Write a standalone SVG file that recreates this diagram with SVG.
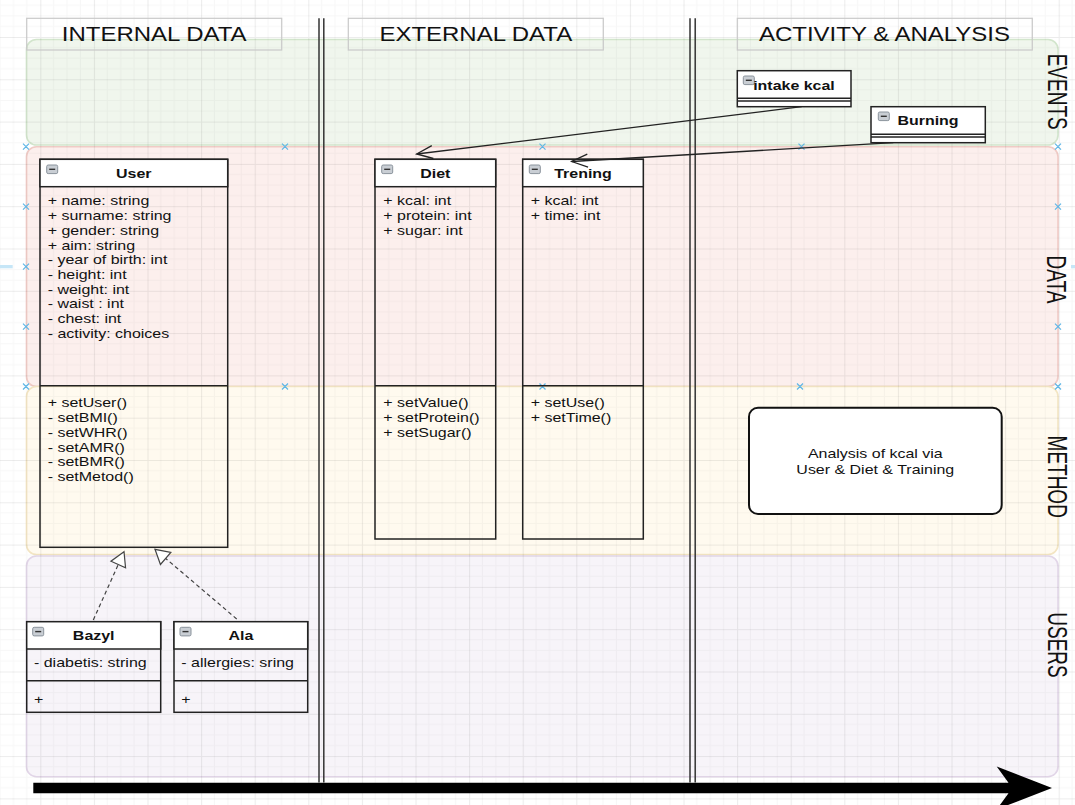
<svg xmlns="http://www.w3.org/2000/svg" xmlns:xlink="http://www.w3.org/1999/xlink" width="1075" height="805" viewBox="0 0 1075 805">
<style>
text{font-family:"Liberation Sans",Arial,sans-serif;fill:#111}
.hdr{font-size:20px}
.lane{font-size:19px}
.t{font-size:13.3px}
.b{font-size:13.3px;font-weight:bold}
.box{fill:none;stroke:#222;stroke-width:1.5}
.hd{fill:#fff;stroke:#222;stroke-width:1.5}
.ln{stroke:#222;stroke-width:1.5}
.dl{stroke:#333;stroke-width:1.5}
.col{fill:none;stroke:#c9c9c9;stroke-width:1.2}
.x{stroke:#5fb6e6;stroke-width:1.2;fill:none}
.edge{fill:none;stroke:#222;stroke-width:1.3}
.dash{fill:none;stroke:#444;stroke-width:1.2;stroke-dasharray:4 3}
</style>
<defs>
<pattern id="grid" patternUnits="userSpaceOnUse" x="-13.3" y="-5.3" width="53.6" height="42.3">
<path d="M13.4 0V42.3M26.8 0V42.3M40.2 0V42.3M0 10.575H53.6M0 21.15H53.6M0 31.725H53.6" stroke="#000" stroke-opacity="0.032" stroke-width="1" fill="none"/>
<path d="M0.5 0V42.3M0 0.5H53.6" stroke="#000" stroke-opacity="0.075" stroke-width="1" fill="none"/>
</pattern>
<marker id="open" markerUnits="userSpaceOnUse" markerWidth="24" markerHeight="24" viewBox="-20 -12 24 24" refX="0" refY="0" orient="auto" overflow="visible">
<path d="M-16,-6.5 L0,0 L-16,6.5" fill="none" stroke="#222" stroke-width="1.3"/>
</marker>
<marker id="tri" markerUnits="userSpaceOnUse" markerWidth="24" markerHeight="24" viewBox="-20 -12 24 24" refX="0" refY="0" orient="auto" overflow="visible">
<path d="M0,0 L-14,-8 L-14,8 Z" fill="#fff" stroke="#444" stroke-width="1.2"/>
</marker>
<g id="ic">
<rect x="0" y="0" width="11" height="8.6" rx="1.5" fill="#c9ced4" stroke="#8a939c" stroke-width="1"/>
<line x1="2.5" y1="4.3" x2="8.5" y2="4.3" stroke="#333" stroke-width="1.4"/>
</g>
</defs>

<rect x="0" y="0" width="1075" height="805" fill="#fff"/>

<g id="lanes">
<rect x="26.5" y="39.5" width="1031.5" height="105.5" rx="10" fill="#f0f6ed" stroke="#d2e5cc" stroke-width="1.6"/>
<rect x="26.5" y="146.7" width="1031.5" height="239.8" rx="10" fill="#fcefed" stroke="#f0cbc6" stroke-width="1.6"/>
<rect x="26.5" y="386.5" width="1031.5" height="168" rx="10" fill="#fffaef" stroke="#f3e5c3" stroke-width="1.6"/>
<rect x="26.5" y="556" width="1031.5" height="220.7" rx="10" fill="#f7f4f9" stroke="#e2d6e8" stroke-width="1.6"/>
</g>

<rect x="0" y="0" width="1075" height="805" fill="url(#grid)"/>

<g id="columns">
<rect class="col" x="26.7" y="18.3" width="255" height="31.7"/>
<rect class="col" x="348.3" y="18.3" width="255" height="31.7"/>
<rect class="col" x="737.3" y="18.3" width="295" height="31.7"/>
<text class="hdr" text-anchor="middle" transform="translate(154.2 40.6) scale(1.2 1)">INTERNAL DATA</text>
<text class="hdr" text-anchor="middle" transform="translate(475.8 40.6) scale(1.2 1)">EXTERNAL DATA</text>
<text class="hdr" text-anchor="middle" transform="translate(884.5 40.6) scale(1.2 1)">ACTIVITY &amp; ANALYSIS</text>
</g>

<g id="dividers">
<line class="dl" x1="319" y1="18.3" x2="319" y2="782.5"/>
<line class="dl" x1="323.8" y1="18.3" x2="323.8" y2="782.5"/>
<line class="dl" x1="690" y1="18.3" x2="690" y2="782.5"/>
<line class="dl" x1="695.2" y1="18.3" x2="695.2" y2="782.5"/>
</g>

<g id="lane-labels">
<text class="lane" text-anchor="middle" transform="translate(1048.3 91.7) rotate(90) scale(1 1.47)">EVENTS</text>
<text class="lane" text-anchor="middle" transform="translate(1047 279.5) rotate(90) scale(1 1.47)">DATA</text>
<text class="lane" text-anchor="middle" transform="translate(1048.3 476.7) rotate(90) scale(1 1.47)">METHOD</text>
<text class="lane" text-anchor="middle" transform="translate(1048.3 645) rotate(90) scale(1 1.47)">USERS</text>
</g>

<g id="handles">
<path class="x" d="M23,143.7l6,6m0,-6l-6,6 M282,143.7l6,6m0,-6l-6,6 M539.5,143.7l6,6m0,-6l-6,6 M798.5,143.7l6,6m0,-6l-6,6 M1055,143.7l6,6m0,-6l-6,6"/>
<path class="x" d="M23,383.5l6,6m0,-6l-6,6 M282,383.5l6,6m0,-6l-6,6 M539.5,383.5l6,6m0,-6l-6,6 M797,383.5l6,6m0,-6l-6,6 M1055,383.5l6,6m0,-6l-6,6"/>
<path class="x" d="M23,203.7l6,6m0,-6l-6,6 M23,263.7l6,6m0,-6l-6,6 M23,323.7l6,6m0,-6l-6,6 M1055,203.7l6,6m0,-6l-6,6 M1055,323.7l6,6m0,-6l-6,6"/>
<rect x="0" y="265" width="12.7" height="3.3" fill="#c6e6f7"/>
<rect x="1071" y="265" width="4" height="3.3" fill="#c6e6f7"/>
</g>

<g id="node-user">
<rect class="box" x="40" y="159.3" width="187.7" height="388"/>
<rect class="hd" x="40" y="159.3" width="187.7" height="27.4"/>
<line class="ln" x1="40" y1="385.7" x2="227.7" y2="385.7"/>
<use xlink:href="#ic" x="46.7" y="165"/>
<text class="b" text-anchor="middle" transform="translate(133.8 177.8) scale(1.2 1)">User</text>
<g transform="translate(47.7 0) scale(1.2 1)">
<text class="t" y="205.5">+ name: string</text>
<text class="t" y="220.2">+ surname: string</text>
<text class="t" y="234.9">+ gender: string</text>
<text class="t" y="249.6">+ aim: string</text>
<text class="t" y="264.3">- year of birth: int</text>
<text class="t" y="279">- height: int</text>
<text class="t" y="293.7">- weight: int</text>
<text class="t" y="308.4">- waist : int</text>
<text class="t" y="323.1">- chest: int</text>
<text class="t" y="337.8">- activity: choices</text>
<text class="t" y="407.5">+ setUser()</text>
<text class="t" y="422.2">- setBMI()</text>
<text class="t" y="436.9">- setWHR()</text>
<text class="t" y="451.6">- setAMR()</text>
<text class="t" y="466.3">- setBMR()</text>
<text class="t" y="481">- setMetod()</text>
</g>
</g>

<g id="node-diet">
<rect class="box" x="375" y="159.3" width="120.7" height="379.7"/>
<rect class="hd" x="375" y="159.3" width="120.7" height="27.4"/>
<line class="ln" x1="375" y1="385.7" x2="495.7" y2="385.7"/>
<use xlink:href="#ic" x="381.7" y="165"/>
<text class="b" text-anchor="middle" transform="translate(435.3 177.8) scale(1.2 1)">Diet</text>
<g transform="translate(383.3 0) scale(1.2 1)">
<text class="t" y="205.5">+ kcal: int</text>
<text class="t" y="220.2">+ protein: int</text>
<text class="t" y="234.9">+ sugar: int</text>
<text class="t" y="407.5">+ setValue()</text>
<text class="t" y="422.2">+ setProtein()</text>
<text class="t" y="436.9">+ setSugar()</text>
</g>
</g>

<g id="node-trening">
<rect class="box" x="522.7" y="159.3" width="120.6" height="379.7"/>
<rect class="hd" x="522.7" y="159.3" width="120.6" height="27.4"/>
<line class="ln" x1="522.7" y1="385.7" x2="643.3" y2="385.7"/>
<use xlink:href="#ic" x="529.3" y="165"/>
<text class="b" text-anchor="middle" transform="translate(583 177.8) scale(1.2 1)">Trening</text>
<g transform="translate(530.7 0) scale(1.2 1)">
<text class="t" y="205.5">+ kcal: int</text>
<text class="t" y="220.2">+ time: int</text>
<text class="t" y="407.5">+ setUse()</text>
<text class="t" y="422.2">+ setTime()</text>
</g>
</g>

<g id="node-bazyl">
<rect class="box" x="26.7" y="621.7" width="134" height="90.6"/>
<rect class="hd" x="26.7" y="621.7" width="134" height="27.3"/>
<line class="ln" x1="26.7" y1="680.7" x2="160.7" y2="680.7"/>
<use xlink:href="#ic" x="32.7" y="627.3"/>
<text class="b" text-anchor="middle" transform="translate(93.7 640.2) scale(1.2 1)">Bazyl</text>
<g transform="translate(34 0) scale(1.2 1)">
<text class="t" y="667.5">- diabetis: string</text>
<text class="t" y="704.4">+</text>
</g>
</g>

<g id="node-ala">
<rect class="box" x="174" y="621.7" width="133.7" height="90.6"/>
<rect class="hd" x="174" y="621.7" width="133.7" height="27.3"/>
<line class="ln" x1="174" y1="680.7" x2="307.7" y2="680.7"/>
<use xlink:href="#ic" x="180" y="627.3"/>
<text class="b" text-anchor="middle" transform="translate(240.9 640.2) scale(1.2 1)">Ala</text>
<g transform="translate(181.3 0) scale(1.2 1)">
<text class="t" y="667.5">- allergies: sring</text>
<text class="t" y="704.4">+</text>
</g>
</g>

<g id="node-intake">
<rect class="hd" x="737.3" y="70.7" width="113.7" height="36"/>
<line class="ln" x1="737.3" y1="98.3" x2="851" y2="98.3"/>
<line class="ln" x1="737.3" y1="101" x2="851" y2="101"/>
<use xlink:href="#ic" x="743.3" y="76"/>
<text class="b" text-anchor="middle" transform="translate(794 89.5) scale(1.2 1)">intake kcal</text>
</g>

<g id="node-burning">
<rect class="hd" x="871" y="106.7" width="114.3" height="36"/>
<line class="ln" x1="871" y1="134.3" x2="985.3" y2="134.3"/>
<line class="ln" x1="871" y1="137" x2="985.3" y2="137"/>
<use xlink:href="#ic" x="878.3" y="112"/>
<text class="b" text-anchor="middle" transform="translate(928 125) scale(1.2 1)">Burning</text>
</g>

<g id="node-analysis">
<rect x="749" y="407.7" width="252.7" height="106.3" rx="9" fill="#fff" stroke="#111" stroke-width="2"/>
<text class="t" text-anchor="middle" transform="translate(875.3 457.5) scale(1.2 1)">Analysis of kcal via</text>
<text class="t" text-anchor="middle" transform="translate(875.3 473.5) scale(1.2 1)">User &amp; Diet &amp; Training</text>
</g>

<g id="connectors">
<path class="edge" d="M801.7,106.7 L416.7,154" marker-end="url(#open)"/>
<path class="edge" d="M893.3,142.7 L571.7,161.5" marker-end="url(#open)"/>
<path class="dash" d="M93.3,620 L124,551.7" marker-end="url(#tri)"/>
<path class="dash" d="M236.7,619 L155,549.3" marker-end="url(#tri)"/>
</g>

<g id="timeline">
<path d="M33.3,782.7 H1008.5 L996.7,766.6 L1052,788 L996.7,809.4 L1008.5,793.3 H33.3 Z" fill="#000"/>
</g>
</svg>
